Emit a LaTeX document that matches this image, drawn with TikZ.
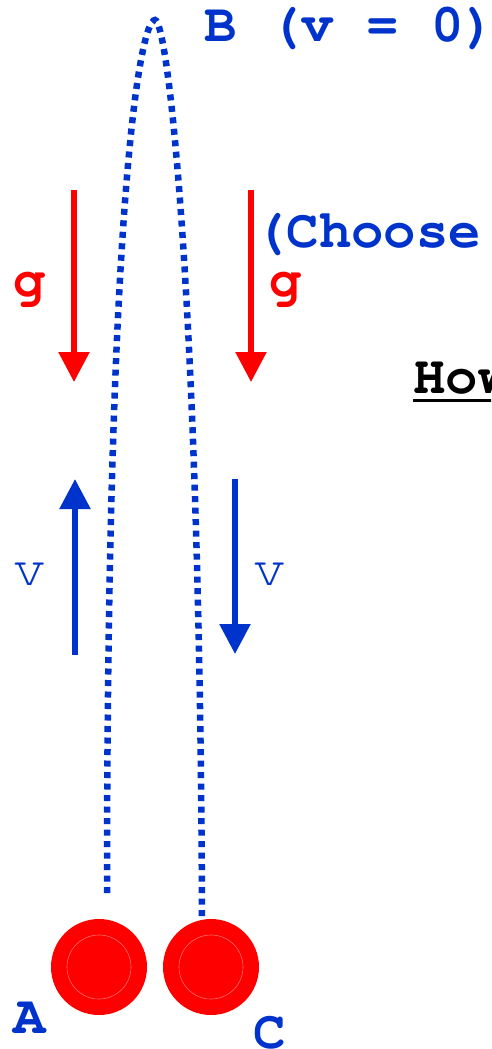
\documentclass[tikz,border=0pt]{standalone}
\usepackage[T1,TU]{fontenc}
\usetikzlibrary{arrows.meta}
\definecolor{pblue}{RGB}{0,51,204}
\definecolor{pred}{RGB}{255,0,0}
\definecolor{pring}{RGB}{255,110,110}
\newcommand{\courb}{\fontencoding{T1}\fontfamily{pcr}\fontseries{b}\fontshape{n}\fontsize{54}{60}\selectfont}
\newcommand{\courm}{\fontencoding{T1}\fontfamily{pcr}\fontseries{m}\fontshape{n}\fontsize{54}{60}\selectfont}
\begin{document}
\begin{tikzpicture}[x=1pt,y=1pt,
  lbl/.style={inner sep=0pt, font=\courb},
  lblr/.style={inner sep=0pt, font=\courm},
  ball/.style={circle, fill=pred, draw=none, minimum size=96pt, inner sep=0pt},
  ring/.style={draw=pring, line width=0.6pt},
  gvec/.style={pred, line width=5.5pt, -{Triangle[width=30pt,length=30pt]}},
  vvec/.style={pblue, line width=5.5pt, -{Triangle[width=30pt,length=30pt]}},
  trajline/.style={pblue, line width=6.5pt, dash pattern=on 6pt off 5.5pt}
]
\useasboundingbox (0,0) rectangle (491,-1049);
\clip (0,0) rectangle (491,-1049);

% balls
\node[ball] (ballA) at (99,-967) {};
\node[ball] (ballC) at (211,-967) {};
\draw[ring] (ballA.center) circle (32);
\draw[ring] (ballC.center) circle (32);

% trajectory
\coordinate (startA) at (107,-893);
\coordinate (peak) at (155,-20);
\coordinate (endC) at (202,-919);
\draw[trajline] (startA) .. controls (107,-200) and (140,-20) .. (peak)
  .. controls (168,-20) and (200,-300) .. (endC);

% gravity arrows
\coordinate (g1s) at (74,-190);  \coordinate (g1e) at (74,-382);
\coordinate (g2s) at (251,-190); \coordinate (g2e) at (251,-382);
\draw[gvec] (g1s) -- (g1e);
\draw[gvec] (g2s) -- (g2e);

% velocity arrows
\coordinate (v1s) at (75,-655);  \coordinate (v1e) at (75,-479);
\coordinate (v2s) at (235,-479); \coordinate (v2e) at (235,-654);
\draw[vvec] (v1s) -- (v1e);
\draw[vvec] (v2s) -- (v2e);

% labels
\node[lbl, text=pblue, anchor=base west] (Blab) at (204,-42) {B (v = 0)};
\node[lbl, text=pblue] (Alab) at (30,-1018) {A};
\node[lbl, text=pblue] (Clab) at (270,-1033) {C};
\node[lbl, text=pblue, anchor=base west] (choose) at (254,-247) {(Choose};
\node[lbl, text=pred] (g1lab) at (29.5,-287.5) {g};
\node[lbl, text=pred] (g2lab) at (286,-287.5) {g};
\node[lblr, text=pblue] (v1lab) at (30,-574) {v};
\node[lblr, text=pblue] (v2lab) at (270,-574) {v};
\node[lbl, text=black, anchor=base west] (how) at (413,-393) {How};
\draw[black, line width=3pt] ([yshift=-7pt]how.base west) -- ([yshift=-7pt]how.base east);
\end{tikzpicture}
\end{document}
